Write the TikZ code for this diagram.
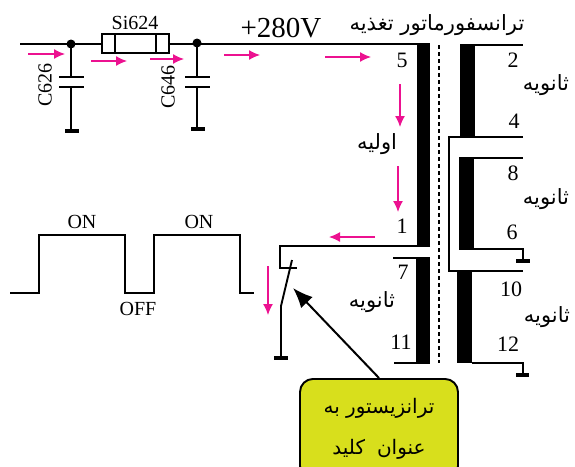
\documentclass[tikz,border=0pt]{standalone}
\usepackage{fontspec}
\setmainfont{Liberation Serif}
\newfontfamily\arabicfont[Script=Arabic]{DejaVu Sans}
\TeXXeTstate=1
\usetikzlibrary{arrows.meta}
\definecolor{flowpink}{HTML}{EC1190}
\definecolor{boxyellow}{HTML}{D8DF1C}
\newcommand{\fa}[1]{{\arabicfont\beginR #1\endR}}
\tikzset{
	wire/.style={line width=1.9pt},
	flow/.style={-{Latex[length=11pt,width=10pt]},flowpink,line width=1.3pt},
	partlabel/.style={font=\fontsize{20}{23}\selectfont,inner sep=0pt},
	pin/.style={font=\fontsize{22}{25}\selectfont,inner sep=0pt},
	falabel/.style={font=\fontsize{21}{24}\selectfont,inner sep=0pt},
	core/.style={fill=black},
}
\begin{document}
\begin{tikzpicture}[x=1pt,y=-1pt]
	\clip (0,0) rectangle (575,466);
	
	\draw[wire] (20,44) -- (430,44);
	\fill (71,44) circle (4.5);
	\fill (197,43) circle (4.5);
	\draw[wire,fill=white] (102,34) rectangle (169,53);
	\draw[wire] (115,34) -- (115,53);
	\draw[wire] (156,34) -- (156,53);
	\node[partlabel] (fuse) at (135,23) {Si624};
	
	\draw[wire] (71,44) -- (71,77);
	\draw[wire] (59,77) -- (84,77);
	\draw[wire] (59,87) -- (84,87);
	\draw[wire] (71,87) -- (71,131);
	\draw[line width=3.5pt] (65,131) -- (79,131);
	\node[partlabel] at (45,85) (capone) [rotate=90] {C626};
	
	\draw[wire] (197,43) -- (197,77);
	\draw[wire] (185,77) -- (210,77);
	\draw[wire] (185,87) -- (210,87);
	\draw[wire] (197,87) -- (197,129);
	\draw[line width=3.5pt] (191,129) -- (205,129);
	\node[partlabel] at (168,87) (captwo) [rotate=90] {C646};
	
	\node[pin,font=\fontsize{29}{32}\selectfont] (volt) at (281,28) {+280V};
	\node[falabel] (title) at (437,25) {\fa{ترانسفورماتور تغذیه}};
	
	\draw[flow] (28,54) -- (65,54);
	\draw[flow] (91,61) -- (127,61);
	\draw[flow] (150,59) -- (184,59);
	\draw[flow] (224,55) -- (260,55);
	\draw[flow] (325,57) -- (371,57);
	\draw[flow] (400,84) -- (400,127);
	\draw[flow] (398,166) -- (398,212);
	\draw[flow] (375,237) -- (329,237);
	\draw[flow] (268,266) -- (268,315);
	
	\fill[core] (417,44) rectangle (430,247);
	\fill[core] (416,258) rectangle (430,363);
	\fill[core] (460,45) rectangle (475,137);
	\fill[core] (459,158) rectangle (474,249);
	\fill[core] (457,271) rectangle (472,363);
	\draw[line width=2.5pt,dash pattern=on 4pt off 3pt] (439,45) -- (439,363);
	
	\draw[wire] (460,45) -- (523,45);
	\draw[wire] (523,137) -- (449,137) -- (449,271) -- (523,271);
	\draw[wire] (459,158) -- (523,158);
	\draw[wire] (459,249) -- (523,249) -- (523,261);
	\draw[line width=3.5pt] (516,261) -- (530,261);
	\draw[wire] (472,363) -- (523,363) -- (523,375);
	\draw[line width=3.5pt] (516,375) -- (529,375);
	\draw[wire] (393,258) -- (430,258);
	\draw[wire] (394,363) -- (430,363);
	
	\draw[wire] (430,246) -- (280,246) -- (280,268) -- (297,268);
	\draw[wire] (292,260) -- (281,306) -- (281,358);
	\draw[line width=3.5pt] (274,358) -- (288,358);
	
	\node[pin] (pinfive) at (402,60) {5};
	\node[pin] (pinone) at (402,226) {1};
	\node[pin] (pinseven) at (403,272) {7};
	\node[pin] (pineleven) at (401,342) {11};
	\node[pin] (pintwo) at (513,60) {2};
	\node[pin] (pinfour) at (514,121) {4};
	\node[pin] (pineight) at (513,173) {8};
	\node[pin] (pinsix) at (512,232) {6};
	\node[pin] (pinten) at (511,289) {10};
	\node[pin] (pintwelve) at (508,344) {12};
	
	\node[falabel] (primary) at (377,144) {\fa{اولیه}};
	\node[falabel] (secone) at (546,85) {\fa{ثانویه}};
	\node[falabel] (sectwo) at (546,199) {\fa{ثانویه}};
	\node[falabel] (secthree) at (547,317) {\fa{ثانویه}};
	\node[falabel] (secfour) at (372,302) {\fa{ثانویه}};
	
	\draw[line width=2pt] (10,292.5) -- (39,292.5) -- (39,235) -- (125,235) -- (125,292.5) -- (154,292.5) -- (154,235) -- (240,235) -- (240,292.5) -- (254,292.5);
	\node[partlabel] (onleft) at (82,222) {ON};
	\node[partlabel] (onright) at (199,222) {ON};
	\node[partlabel] (offlabel) at (138,309) {OFF};
	
	\node[draw,wire,fill=boxyellow,rounded corners=13pt,minimum width=158pt,minimum height=100pt,align=center,anchor=north,font=\fontsize{20}{41}\selectfont] (switchbox) at (379,378) {\fa{ترانزیستور به}\\\fa{عنوان\; کلید}};
	\coordinate (switchtip) at (293,288);
	\draw[-{Latex[length=20pt,width=16pt]},line width=2pt] (switchbox.north) -- (switchtip);
\end{tikzpicture}
\end{document}
